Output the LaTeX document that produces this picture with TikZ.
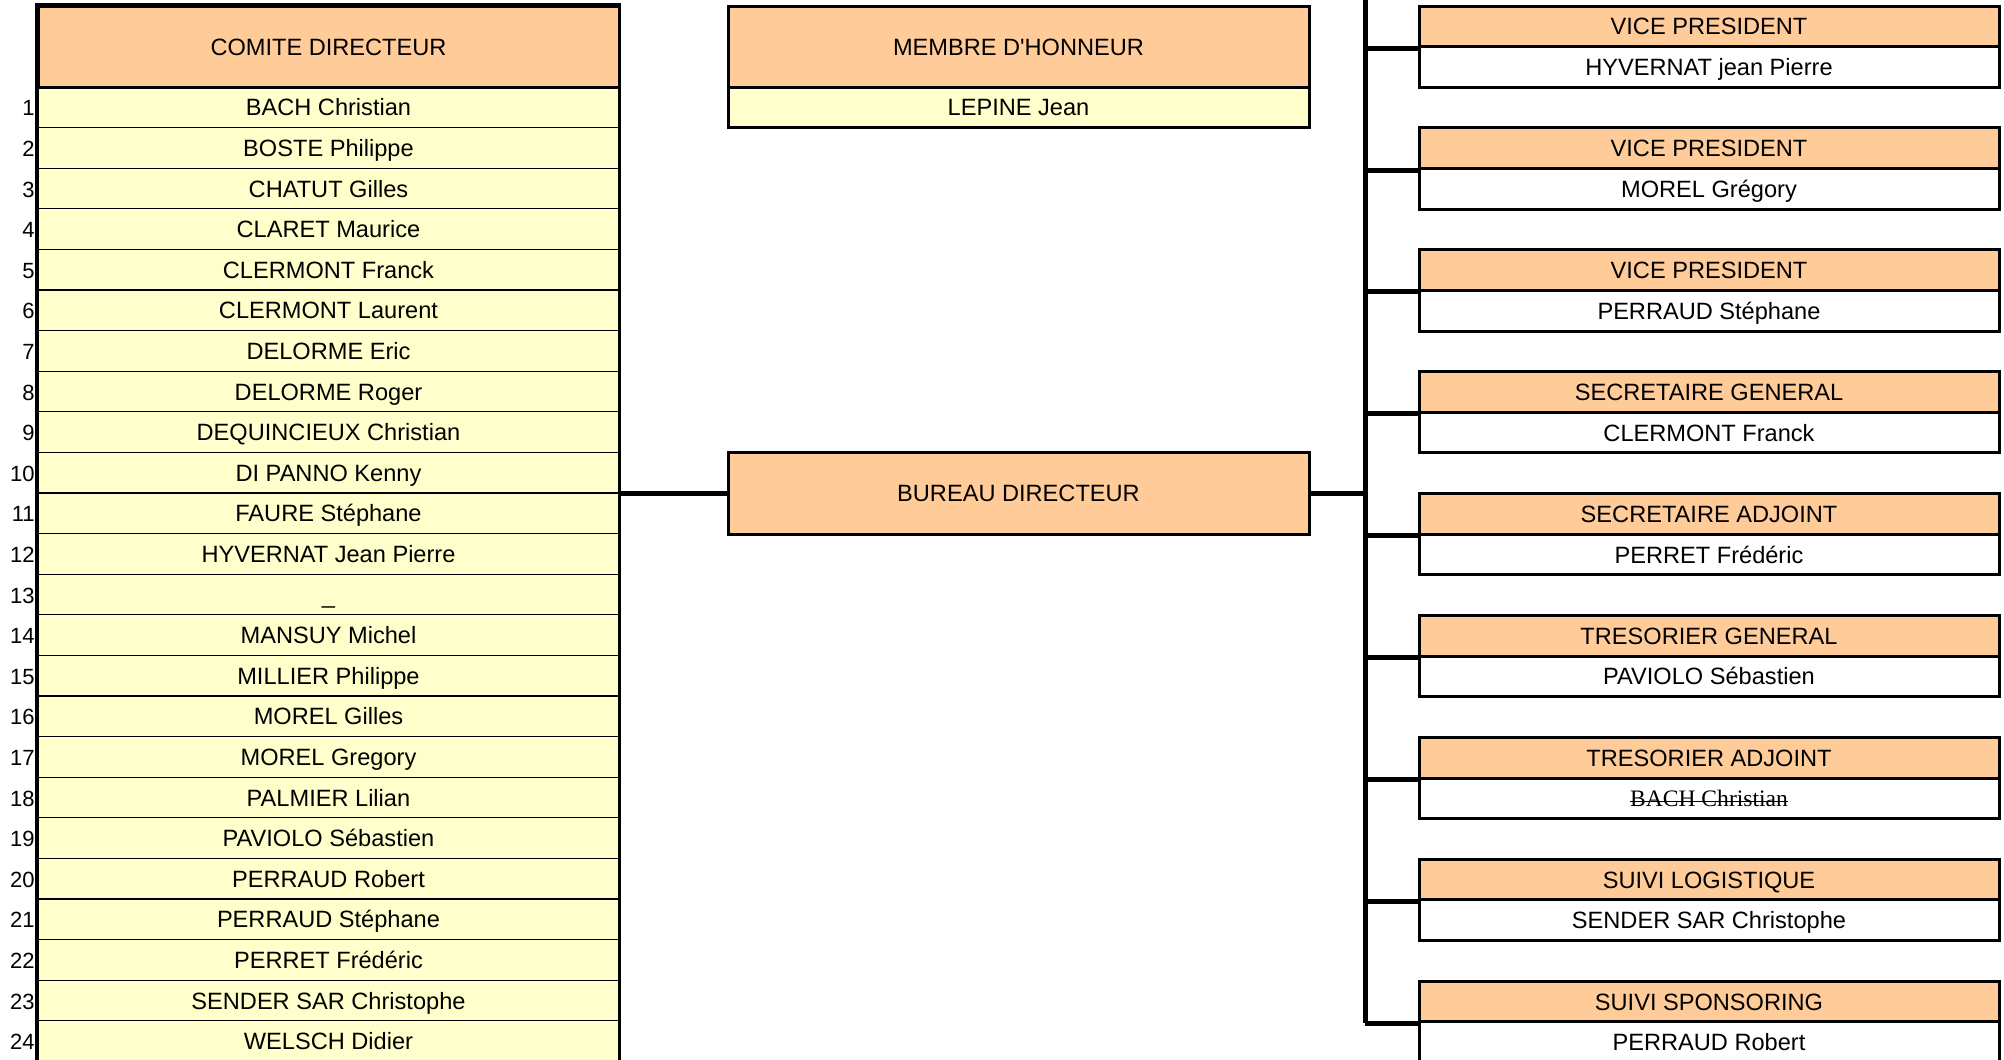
\documentclass[tikz,border=0pt]{standalone}
\usepackage{fontspec}
\setmainfont{Liberation Sans}
\newfontfamily\serifstrike{Liberation Serif}
\definecolor{hdr}{HTML}{FFCC99}
\definecolor{yel}{HTML}{FFFFCC}
\begin{document}
\begin{tikzpicture}[x=0.5pt,y=-0.5pt,
  every node/.style={font=\fontsize{11.8}{14}\selectfont, inner sep=0pt, text height=8.5pt, text depth=0pt},
  rowcell/.style={draw=black, line width=0.6pt, fill=yel, minimum width=290.5pt, minimum height=20.3pt},
  bighdr/.style={draw=black, line width=1.5pt, fill=hdr, minimum width=290.5pt, minimum height=40.5pt},
  yelcell/.style={draw=black, line width=1.5pt, fill=yel, minimum width=290.5pt, minimum height=20.3pt},
  rhdr/.style={draw=black, line width=1.5pt, fill=hdr, minimum width=290pt, minimum height=20.3pt},
  rname/.style={draw=black, line width=1.5pt, fill=white, minimum width=290pt, minimum height=20.3pt},
  numlab/.style={anchor=east, font=\fontsize{11}{13}\selectfont},
  link/.style={draw=black, line width=2.5pt}
]
\useasboundingbox (0,0) rectangle (2004,1060);

% ---- Comite directeur table ----
\foreach \nm [count=\i] in {BACH Christian, BOSTE Philippe, CHATUT Gilles, CLARET Maurice,
  CLERMONT Franck, CLERMONT Laurent, DELORME Eric, DELORME Roger, DEQUINCIEUX Christian,
  DI PANNO Kenny, FAURE Stéphane, HYVERNAT Jean Pierre, \_, MANSUY Michel, MILLIER Philippe,
  MOREL Gilles, MOREL Gregory, PALMIER Lilian, PAVIOLO Sébastien, PERRAUD Robert,
  PERRAUD Stéphane, PERRET Frédéric, SENDER SAR Christophe, WELSCH Didier} {
  \node[rowcell] (c\i) at (328.5, {87+(\i-0.5)*40.6}) {\nm};
  \node[numlab] (n\i) at (35, {87+(\i-0.5)*40.6}) {\i};
}
\node[bighdr] (comite) at (328.5, 46.5) {COMITE DIRECTEUR};
\draw[line width=1.5pt] (comite.north west) rectangle (c24.south east);

% ---- Membre d'honneur ----
\node[yelcell] (lepine) at (1018.5, 107.3) {LEPINE Jean};
\node[bighdr] (membre) at (1018.5, 46.5) {MEMBRE D\textquotesingle HONNEUR};

% ---- Bureau directeur ----
\node[draw=black, line width=1.5pt, fill=hdr, minimum width=290.5pt, minimum height=41pt] (bureau) at (1018.5, 493) {BUREAU DIRECTEUR};

% ---- Right column ----
\foreach \ttl/\who [count=\k from 0] in {VICE PRESIDENT/HYVERNAT jean Pierre,
  VICE PRESIDENT/MOREL Grégory, VICE PRESIDENT/PERRAUD Stéphane,
  SECRETAIRE GENERAL/CLERMONT Franck, SECRETAIRE ADJOINT/PERRET Frédéric,
  TRESORIER GENERAL/PAVIOLO Sébastien, TRESORIER ADJOINT/,
  SUIVI LOGISTIQUE/SENDER SAR Christophe, SUIVI SPONSORING/PERRAUD Robert} {
  \node[rname] (p\k) at (1709, {6+121.9*\k+60.9}) {\who};
  \node[rhdr] (h\k) at (1709, {6+121.9*\k+20.3}) {\ttl};
}
\node[font=\serifstrike\fontsize{11.8}{14}\selectfont] (strk) at (p6.center) {BACH Christian};
\draw[line width=0.7pt] ([yshift=-1.6pt]strk.west) -- ([yshift=-1.6pt]strk.east);

% ---- Connectors ----
\coordinate (busTop) at (1365,-5);
\coordinate (busBot) at (1365,1022.8);
\draw[link] (busTop) -- (busBot);
\foreach \k in {0,...,8} {
  \draw[link] (h\k.south west -| busTop) -- (h\k.south west);
}
\draw[link] (bureau.west -| c10.east) -- (bureau.west);
\draw[link] (bureau.east) -- (bureau.east -| busTop);
\end{tikzpicture}
\end{document}
